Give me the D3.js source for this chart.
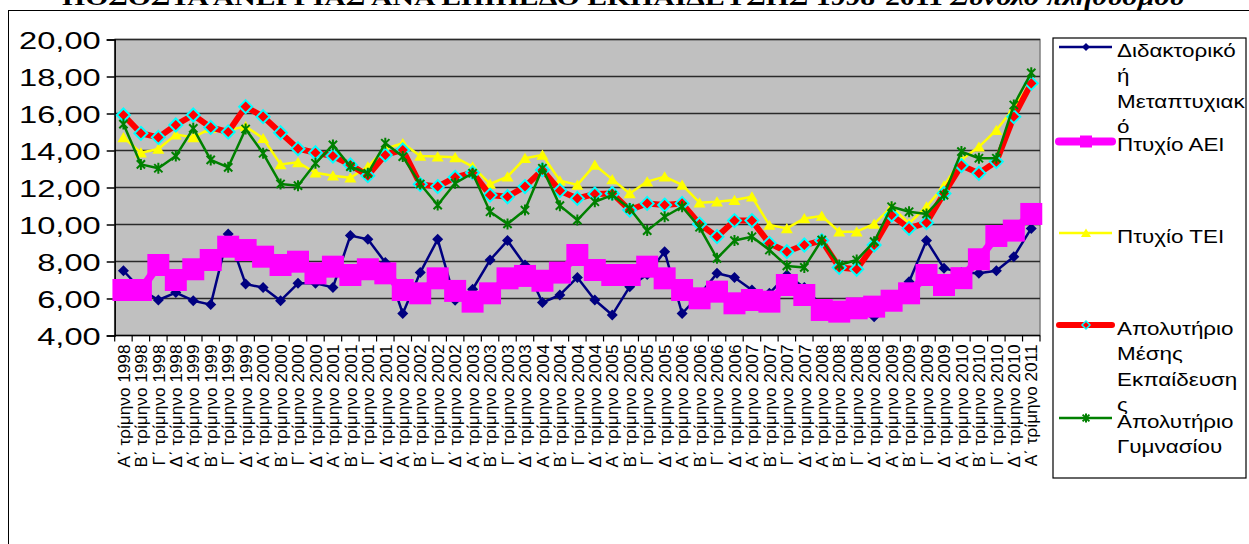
<!DOCTYPE html>
<html><head><meta charset="utf-8">
<script src="https://cdn.jsdelivr.net/npm/d3@7"></script>
<style>body{margin:0;background:#fff} svg{display:block}</style>
</head><body><svg id="c" width="1249" height="544"></svg>
<script>
const categories = [
"Α΄ τρίμηνο 1998","Β΄ τρίμηνο 1998","Γ΄ τρίμηνο 1998","Δ΄ τρίμηνο 1998",
"Α΄ τρίμηνο 1999","Β΄ τρίμηνο 1999","Γ΄ τρίμηνο 1999","Δ΄ τρίμηνο 1999",
"Α΄ τρίμηνο 2000","Β΄ τρίμηνο 2000","Γ΄ τρίμηνο 2000","Δ΄ τρίμηνο 2000",
"Α΄ τρίμηνο 2001","Β΄ τρίμηνο 2001","Γ΄ τρίμηνο 2001","Δ΄ τρίμηνο 2001",
"Α΄ τρίμηνο 2002","Β΄ τρίμηνο 2002","Γ΄ τρίμηνο 2002","Δ΄ τρίμηνο 2002",
"Α΄ τρίμηνο 2003","Β΄ τρίμηνο 2003","Γ΄ τρίμηνο 2003","Δ΄ τρίμηνο 2003",
"Α΄ τρίμηνο 2004","Β΄ τρίμηνο 2004","Γ΄ τρίμηνο 2004","Δ΄ τρίμηνο 2004",
"Α΄ τρίμηνο 2005","Β΄ τρίμηνο 2005","Γ΄ τρίμηνο 2005","Δ΄ τρίμηνο 2005",
"Α΄ τρίμηνο 2006","Β΄ τρίμηνο 2006","Γ΄ τρίμηνο 2006","Δ΄ τρίμηνο 2006",
"Α΄ τρίμηνο 2007","Β΄ τρίμηνο 2007","Γ΄ τρίμηνο 2007","Δ΄ τρίμηνο 2007",
"Α΄ τρίμηνο 2008","Β΄ τρίμηνο 2008","Γ΄ τρίμηνο 2008","Δ΄ τρίμηνο 2008",
"Α΄ τρίμηνο 2009","Β΄ τρίμηνο 2009","Γ΄ τρίμηνο 2009","Δ΄ τρίμηνο 2009",
"Α΄ τρίμηνο 2010","Β΄ τρίμηνο 2010","Γ΄ τρίμηνο 2010","Δ΄ τρίμηνο 2010",
"Α΄ τρίμηνο 2011"];

const doctorate = [7.50,6.50,5.92,6.32,5.88,5.67,9.49,6.78,6.59,5.88,6.82,6.82,6.60,9.40,9.20,7.95,
5.19,7.40,9.20,5.90,6.50,8.08,9.13,7.81,5.78,6.19,7.14,5.92,5.11,6.64,7.30,8.53,
5.19,6.20,7.36,7.14,6.46,6.28,7.27,6.60,5.60,5.40,5.50,5.02,6.00,6.90,9.13,7.63,
7.40,7.36,7.50,8.26,9.79];
const aei = [6.46,6.46,7.81,7.00,7.58,8.08,8.80,8.62,8.26,7.81,7.99,7.36,7.72,7.27,7.58,7.36,
6.46,6.28,7.09,6.41,5.83,6.28,7.09,7.22,6.96,7.40,8.35,7.54,7.27,7.27,7.72,7.09,
6.46,6.01,6.37,5.74,5.92,5.83,6.73,6.19,5.38,5.29,5.47,5.56,5.88,6.28,7.27,6.73,
7.10,8.12,9.38,9.67,10.57];
const tei = [14.71,13.88,14.08,14.86,14.71,15.20,15.10,15.30,14.66,13.25,13.36,12.80,12.64,12.53,13.13,14.10,
14.39,13.70,13.67,13.63,13.13,12.19,12.59,13.58,13.76,12.37,12.14,13.22,12.44,11.68,12.32,12.59,
12.14,11.18,11.23,11.32,11.50,9.97,9.79,10.33,10.46,9.61,9.61,10.03,10.96,10.06,10.96,12.10,
13.50,14.20,15.10,16.30,17.70];
const lyceum = [15.92,14.93,14.71,15.38,15.92,15.25,15.00,16.37,15.83,14.96,14.10,13.88,13.70,13.22,12.64,13.76,
14.03,12.17,12.05,12.55,12.80,11.59,11.50,12.05,12.95,11.83,11.41,11.65,11.68,10.78,11.14,11.05,
11.14,10.03,9.34,10.21,10.21,8.98,8.53,8.89,9.13,7.68,7.58,8.89,10.51,9.79,10.10,11.68,
13.19,12.77,13.40,15.83,17.63];
const gymnasium = [15.43,13.25,13.04,13.70,15.20,13.49,13.09,15.16,13.85,12.19,12.10,13.31,14.30,13.13,12.77,14.39,
13.67,12.19,11.05,12.23,12.77,10.69,10.03,10.78,13.04,11.02,10.24,11.23,11.59,10.87,9.67,10.42,
10.96,9.85,8.17,9.13,9.34,8.62,7.76,7.68,9.16,7.81,8.08,9.07,10.96,10.69,10.57,11.59,
13.94,13.58,13.58,16.46,18.20];

const yTicks = [4,6,8,10,12,14,16,18,20];
const legendLines = [
  ["Διδακτορικό","ή","Μεταπτυχιακ","ό"],
  ["Πτυχίο ΑΕΙ"],
  ["Πτυχίο ΤΕΙ"],
  ["Απολυτήριο","Μέσης","Εκπαίδευση","ς"],
  ["Απολυτήριο","Γυμνασίου"]
];
const titleMain = "ΠΟΣΟΣΤΑ ΑΝΕΡΓΙΑΣ ΑΝΑ ΕΠΙΠΕΔΟ ΕΚΠΑΙΔΕΥΣΗΣ 1998-2011 ";
const titleSub = "Σύνολο πληθυσμού";

const series = [
  {values: doctorate, color:"#000080", width:2.5, marker:"diamond", size:11, fill:"#000080", stroke:"none"},
  {values: aei, color:"#FF00FF", width:8, marker:"square", size:22, fill:"#FF00FF", stroke:"none"},
  {values: tei, color:"#FFFF00", width:2.5, marker:"triangle", size:12, fill:"#FFFF00", stroke:"none"},
  {values: lyceum, color:"#FF0000", width:6, marker:"diamond", size:13, fill:"#FF0000", stroke:"#00FFFF"},
  {values: gymnasium, color:"#008000", width:2.5, marker:"star", size:11, fill:"none", stroke:"#008000"}
];

const svg = d3.select("#c");
const font = "'Liberation Sans', Arial, sans-serif";
const L = 114.7, R = 1040, T = 39.5, B = 335.5;

const x = d3.scaleBand().domain(categories).range([L, R]).padding(0);
const y = d3.scaleLinear().domain([4, 20]).range([B, T]);
const cx = c => x(c) + x.bandwidth()/2;

// outer frame
svg.append("rect").attr("x",8.5).attr("y",10.5).attr("width",1300).attr("height",600)
  .attr("fill","none").attr("stroke","#000").attr("stroke-width",1);

// title
const title = svg.append("text").attr("x", 623).attr("y", 5).attr("text-anchor","middle")
  .attr("font-family","'Liberation Serif','Times New Roman',serif").attr("font-weight","bold")
  .attr("font-size", 24).attr("textLength", 1122).attr("lengthAdjust","spacingAndGlyphs");
title.append("tspan").text(titleMain);
title.append("tspan").attr("font-style","italic").text(titleSub);

// plot bg
svg.append("rect").attr("x",L).attr("y",T).attr("width",R-L).attr("height",B-T)
  .attr("fill","#C0C0C0").attr("stroke","#808080").attr("stroke-width",1.5);

// gridlines
svg.append("g").selectAll("line").data(yTicks.filter(d=>d>4)).join("line")
  .attr("x1",L).attr("x2",R).attr("y1",d=>y(d)).attr("y2",d=>y(d))
  .attr("stroke","#2a2a2a").attr("stroke-width",1.5);

// y axis
const yAxis = svg.append("g").attr("transform",`translate(${L},0)`)
  .call(d3.axisLeft(y).tickValues(yTicks).tickSize(8).tickPadding(8)
    .tickFormat(d => d3.format(".2f")(d).replace(".", ",")));
yAxis.select(".domain").attr("stroke","#000").attr("stroke-width",1.5);
yAxis.selectAll(".tick line").attr("stroke","#000").attr("stroke-width",1.5);
yAxis.selectAll(".tick text").attr("font-family",font).attr("font-size",24).attr("fill","#000")
  .attr("dy","0.36em")
  .attr("transform","translate(-14,0) scale(1.36,1)").attr("x",0);

// x axis line
svg.append("line").attr("x1",L).attr("x2",R).attr("y1",B).attr("y2",B)
  .attr("stroke","#000").attr("stroke-width",1.5);
// x ticks at band boundaries
const bounds = categories.map(c => x(c)).concat([x(categories[categories.length-1]) + x.bandwidth()]);
svg.append("g").selectAll("line").data(bounds).join("line")
  .attr("x1",d=>d).attr("x2",d=>d).attr("y1",B).attr("y2",B+6)
  .attr("stroke","#000").attr("stroke-width",1.2);
// x labels
svg.append("g").selectAll("text").data(categories).join("text")
  .attr("transform", c => `translate(${cx(c)+6.2},${B+9}) rotate(-90)`)
  .attr("text-anchor","end").attr("font-family",font).attr("font-size",17.2)
  .text(c => c);

// series
const diamond = s => `M0,${-s/2}L${s/2},0L0,${s/2}L${-s/2},0Z`;
const square = s => `M${-s/2},${-s/2}h${s}v${s}h${-s}Z`;
const triangle = s => `M0,${-s*0.45}L${s/2},${s*0.4}L${-s/2},${s*0.4}Z`;
const star = s => { const h=s/2, d=h*0.75; return `M${-d},${-d}L${d},${d}M${-d},${d}L${d},${-d}M0,${-h}L0,${h}`; };
const markerPath = (m,s) => m==="diamond"?diamond(s):m==="square"?square(s):m==="triangle"?triangle(s):star(s);

const line = d3.line().x((d,i)=>cx(categories[i])).y(d=>y(d));
series.forEach(s => {
  const g = svg.append("g");
  g.append("path").attr("d", line(s.values)).attr("fill","none")
    .attr("stroke", s.color).attr("stroke-width", s.width).attr("stroke-linejoin","round");
  g.selectAll("path.m").data(s.values).join("path").attr("class","m")
    .attr("transform",(d,i)=>`translate(${cx(categories[i])},${y(d)})`)
    .attr("d", markerPath(s.marker, s.size))
    .attr("fill", s.fill).attr("stroke", s.stroke)
    .attr("stroke-width", s.marker==="star"?2:(s.stroke==="none"?0:2));
});

// legend
svg.append("rect").attr("x",1053).attr("y",38).attr("width",193).attr("height",440)
  .attr("fill","#fff").attr("stroke","#000").attr("stroke-width",1.2);
const legendY = [47, 141.5, 233, 325, 418];
const legendSizes = [8, 12, 10, 8, 9];
series.forEach((s,i) => {
  const g = svg.append("g").attr("transform",`translate(0,${legendY[i]})`);
  g.append("line").attr("x1",1059).attr("x2",1112).attr("y1",0).attr("y2",0)
    .attr("stroke",s.color).attr("stroke-width", s.width>=6 ? s.width : 2.5).attr("stroke-linecap", s.width>=6?"round":"butt");
  g.append("path").attr("transform","translate(1086,0)").attr("d", markerPath(s.marker, legendSizes[i]))
    .attr("fill", s.fill).attr("stroke", s.stroke).attr("stroke-width", s.marker==="star"?2:(s.stroke==="none"?0:1.5));
  legendLines[i].forEach((t,k) => {
    g.append("text").attr("transform",`translate(1117,${9.5 + k*25.5}) scale(1.18,1)`)
      .attr("font-family",font).attr("font-size",19).text(t);
  });
});
</script></body></html>
